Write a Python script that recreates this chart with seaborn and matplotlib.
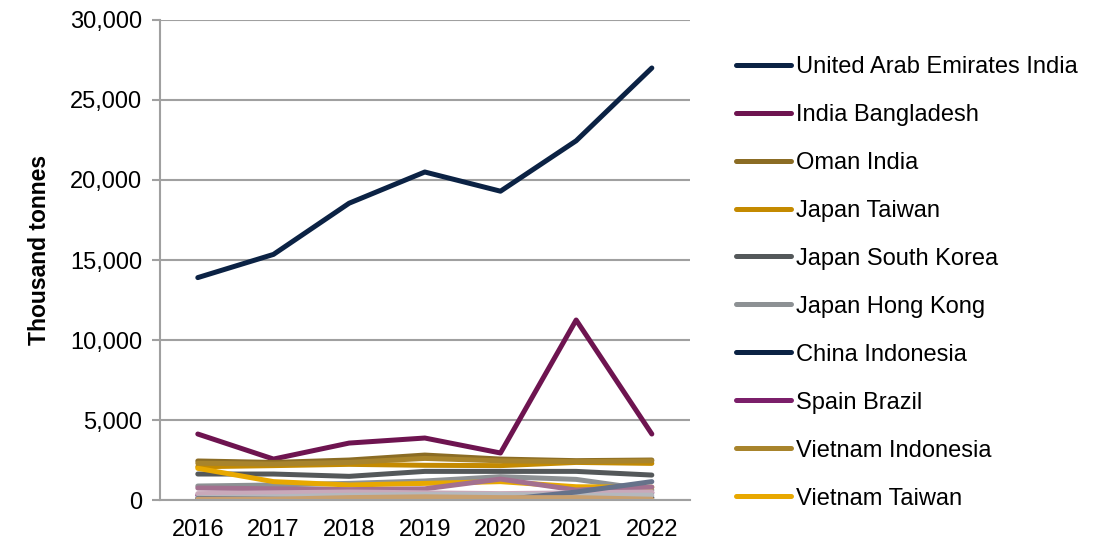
import matplotlib.pyplot as plt
import matplotlib.ticker as mticker
import pandas as pd
import seaborn as sns

years = [2016, 2017, 2018, 2019, 2020, 2021, 2022]

uae_india = [13900, 15350, 18550, 20500, 19300, 22450, 27000]
india_bangladesh = [4125, 2560, 3560, 3875, 2940, 11250, 4125]
oman_india = [2440, 2350, 2500, 2810, 2560, 2460, 2500]
japan_taiwan = [2080, 2150, 2230, 2170, 2150, 2350, 2290]
japan_south_korea = [1625, 1625, 1480, 1790, 1790, 1790, 1560]
japan_hong_kong = [875, 940, 1040, 1190, 1460, 1290, 625]
china_indonesia = [50, 60, 80, 100, 100, 120, 150]
spain_brazil = [300, 350, 400, 350, 300, 400, 450]
vietnam_indonesia = [2300, 2250, 2350, 2600, 2450, 2400, 2450]
vietnam_taiwan = [1980, 1150, 940, 1040, 1150, 830, 800]
# further routes drawn in the chart but cut off from the legend
other_a = [750, 700, 650, 700, 1310, 625, 810]
other_b = [400, 450, 500, 450, 400, 450, 500]
other_c = [150, 200, 300, 350, 350, 300, 300]
other_d = [100, 50, 0, 0, 0, 500, 1150]
other_e = [50, 50, 150, 200, 150, 150, 50]

series = {
    "United Arab Emirates India": (uae_india, "#0b2244"),
    "India Bangladesh": (india_bangladesh, "#6e1450"),
    "Oman India": (oman_india, "#8b6c24"),
    "Japan Taiwan": (japan_taiwan, "#c48a00"),
    "Japan South Korea": (japan_south_korea, "#54585a"),
    "Japan Hong Kong": (japan_hong_kong, "#8d9194"),
    "China Indonesia": (china_indonesia, "#0b2244"),
    "Spain Brazil": (spain_brazil, "#7b1f6a"),
    "Vietnam Indonesia": (vietnam_indonesia, "#a8842c"),
    "Vietnam Taiwan": (vietnam_taiwan, "#e8a800"),
    "Other A": (other_a, "#a3708f"),
    "Other B": (other_b, "#c9a9ba"),
    "Other C": (other_c, "#b4b8be"),
    "Other D": (other_d, "#66728a"),
    "Other E": (other_e, "#c8a070"),
}
legend_names = list(series.keys())[:10]

rows = []
for name, (vals, _) in series.items():
    for y, v in zip(years, vals):
        rows.append({"year": y, "value": v, "route": name})
df = pd.DataFrame(rows)
palette = {name: c for name, (_, c) in series.items()}

sns.set_theme(style="white")
plt.rcParams["font.family"] = ["Liberation Sans", "DejaVu Sans"]

fig = plt.figure(figsize=(11.07, 5.46), dpi=100)
ax = fig.add_axes([0.1445, 0.0842, 0.4785, 0.8792])

sns.lineplot(data=df, x="year", y="value", hue="route", hue_order=list(series.keys()),
             palette=palette, linewidth=3.6, ax=ax, legend=True)

ax.set_xlim(2015.5, 2022.5)
ax.set_ylim(0, 30000)
ax.set_xticks(years)
ax.set_xticklabels([str(y) for y in years])
ax.xaxis.set_minor_locator(mticker.FixedLocator([y - 0.5 for y in years] + [2022.5]))
ax.tick_params(axis="x", which="major", length=0, labelsize=17, pad=14, colors="black")
ax.tick_params(axis="x", which="minor", length=9, width=1.5, color="#a0a0a0", direction="out")
ax.yaxis.set_major_locator(mticker.MultipleLocator(5000))
ax.yaxis.set_major_formatter(mticker.StrMethodFormatter("{x:,.0f}"))
ax.tick_params(axis="y", length=6, width=1.5, color="#a0a0a0", labelsize=17, pad=7,
               left=True, labelcolor="black")
ax.grid(axis="y", color="#a0a0a0", linewidth=1.5)
ax.set_axisbelow(True)
for s in ["top", "right"]:
    ax.spines[s].set_visible(False)
for s in ["left", "bottom"]:
    ax.spines[s].set_color("#a0a0a0")
    ax.spines[s].set_linewidth(1.5)

ax.set_xlabel("")
ax.set_ylabel("Thousand tonnes", fontsize=16.5, fontweight="bold", color="black")
ax.yaxis.set_label_coords(-0.205, 0.52)

handles, labels = ax.get_legend_handles_labels()
keep = [(h, l) for h, l in zip(handles, labels) if l in legend_names]
ax.legend([h for h, _ in keep], [l for _, l in keep], loc="upper left",
          bbox_to_anchor=(0.656, 0.915), bbox_transform=fig.transFigure,
          frameon=False, fontsize=17, labelspacing=1.1, handlelength=2.35,
          handletextpad=0.2, borderaxespad=0, labelcolor="black")

plt.savefig("out.png", dpi=100)
plt.close()
